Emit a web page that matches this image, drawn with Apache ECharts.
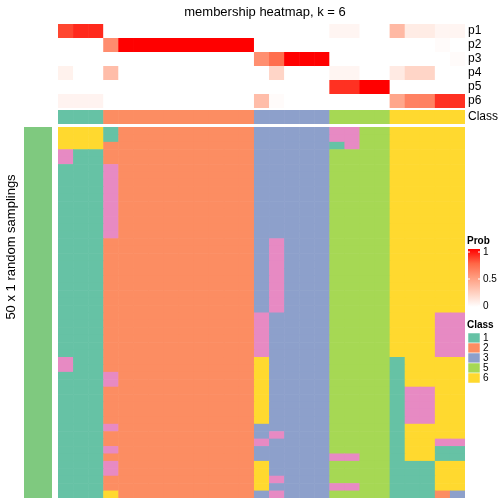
<!DOCTYPE html>
<html><head><meta charset="utf-8">
<script src="https://cdn.jsdelivr.net/npm/echarts@6/dist/echarts.min.js"></script>
<style>html,body{margin:0;padding:0;background:#fff}#c{width:504px;height:504px}</style>
</head><body><div id="c"></div>
<script>
// ---------- data ----------
const sampleCols = ['c1','c2','c3','c4','c5','c6','c7','c8','c9','c10','c11','c12','c13','c14','c15','c16','c17','c18','c19','c20','c21','c22','c23','c24','c25','c26','c27'];
const membershipNames = ['p1','p2','p3','p4','p5','p6'];
const p1 = [0.83,0.9,0.9, 0,0,0,0,0,0,0,0,0,0, 0,0,0,0,0, 0.05,0.05,0,0, 0.36,0.1,0.1,0.05,0.05];
const p2 = [0,0,0, 0.58,1,1,1,1,1,1,1,1,1, 0,0,0,0,0, 0,0,0,0, 0,0,0,0.02,0];
const p3 = [0,0,0, 0,0,0,0,0,0,0,0,0,0, 0.57,0.72,1,1,1, 0,0,0,0, 0,0,0,0,0.02];
const p4 = [0.07,0,0, 0.34,0,0,0,0,0,0,0,0,0, 0,0.22,0,0,0, 0.05,0.05,0,0, 0.11,0.22,0.22,0,0];
const p5 = [0,0,0, 0,0,0,0,0,0,0,0,0,0, 0,0,0,0,0, 0.88,0.88,1,1, 0,0,0,0,0];
const p6 = [0.06,0.06,0.06, 0,0,0,0,0,0,0,0,0,0, 0.34,0.02,0,0,0, 0,0,0,0, 0.46,0.63,0.63,0.88,0.88];
const consensusClass = [1,1,1, 2,2,2,2,2,2,2,2,2,2, 3,3,3,3,3, 5,5,5,5, 6,6,6,6,6];
// one string per random sampling (50), one digit (class) per sample column
const samplingRuns = [
 "666122222222233333445566666",
 "666122222222233333445566666",
 "666222222222233333145566666",
 "411222222222233333555566666",
 "411222222222233333555566666",
 "111422222222233333555566666",
 "111422222222233333555566666",
 "111422222222233333555566666",
 "111422222222233333555566666",
 "111422222222233333555566666",
 "111422222222233333555566666",
 "111422222222233333555566666",
 "111422222222233333555566666",
 "111422222222233333555566666",
 "111422222222233333555566666",
 "111222222222234333555566666",
 "111222222222234333555566666",
 "111222222222234333555566666",
 "111222222222234333555566666",
 "111222222222234333555566666",
 "111222222222234333555566666",
 "111222222222234333555566666",
 "111222222222234333555566666",
 "111222222222234333555566666",
 "111222222222234333555566666",
 "111222222222243333555566644",
 "111222222222243333555566644",
 "111222222222243333555566644",
 "111222222222243333555566644",
 "111222222222243333555566644",
 "111222222222243333555566644",
 "411222222222263333555516666",
 "411222222222263333555516666",
 "111422222222263333555516666",
 "111422222222263333555516666",
 "111222222222263333555514466",
 "111222222222263333555514466",
 "111222222222263333555514466",
 "111222222222263333555514466",
 "111222222222263333555514466",
 "111422222222233333555516666",
 "111222222222234333555516666",
 "111222222222243333555516644",
 "111422222222233333555516611",
 "111222222222233333445516611",
 "111422222222263333555511166",
 "111422222222263333555511166",
 "111222222222264333555511166",
 "111222222222263333445511166",
 "111622222222234333555511123"
];
const classKeys = [1,2,3,4,5,6];
const classColors = ['#66C2A5','#FC8D62','#8DA0CB','#E78AC3','#A6D854','#FFD92F'];
const legendClasses = [1,2,3,5,6];
const probTicks = [1, 0.5, 0];
const probColorStops = ['#FFFFFF','#FFCFBF','#FF9E81','#FF6746','#FF0000'];

// ---------- build ----------
const FONT = 'Liberation Sans, Arial, Helvetica, sans-serif';
const memb = [p1,p2,p3,p4,p5,p6];
const membData = [];
memb.forEach((arr, r) => arr.forEach((v, c) => membData.push([c, r, v])));
const classData = consensusClass.map((k, c) => [c, 0, k]);
const runNames = samplingRuns.map((s, i) => 'run' + (i + 1));
const runData = [];
samplingRuns.forEach((s, r) => { for (let c = 0; c < s.length; c++) runData.push([c, r, Number(s[c])]); });

const L = 58, W = 407;
function xCat(gi, data){ return {type:'category', gridIndex:gi, data:data, show:false}; }
const hidden = {axisLine:{show:false}, axisTick:{show:false}, splitLine:{show:false}};

// cell renderer: rect from the axis scales, widened by a hair so neighbours overlap (no seams)
function cell(params, api){
  const p = api.coord([api.value(0), api.value(1)]);
  const s = api.size([1, 1]);
  return {type:'rect', shape:{x:p[0]-s[0]/2, y:p[1]-s[1]/2, width:s[0]+0.6, height:s[1]+0.6},
    style:{fill:api.visual('color')}};
}
function heat(xi, yi, data, extra){
  return Object.assign({type:'custom', xAxisIndex:xi, yAxisIndex:yi, data:data, renderItem:cell,
    clip:true, silent:true, encode:{x:0, y:1}}, extra || {});
}

const chart = echarts.init(document.getElementById('c'), null, {renderer:'canvas'});
const legendX = 468, swW = 12;
const graphics = [
  {type:'text', x:265, y:12, style:{text:'membership heatmap, k = 6', font:'13px ' + FONT, fill:'#000', textAlign:'center', textVerticalAlign:'middle'}},
  {type:'text', x:11, y:247, rotation:Math.PI/2, style:{text:'50 x 1 random samplings', font:'13px ' + FONT, fill:'#000', textAlign:'center', textVerticalAlign:'middle'}},
  {type:'text', x:38, y:313, rotation:Math.PI/2, style:{text:'top 1000 rows', font:'10px ' + FONT, fill:'#000', textAlign:'center', textVerticalAlign:'middle'}},
  {type:'text', x:legendX-1, y:241, style:{text:'Prob', font:'bold 10px ' + FONT, fill:'#000', textAlign:'left', textVerticalAlign:'middle'}},
  {type:'rect', shape:{x:legendX, y:249, width:swW, height:58}, style:{fill:new echarts.graphic.LinearGradient(0,0,0,1, probColorStops.slice().reverse().map((c,i)=>({offset:i/(probColorStops.length-1), color:c})))}},
  {type:'text', x:legendX-1, y:325, style:{text:'Class', font:'bold 10px ' + FONT, fill:'#000', textAlign:'left', textVerticalAlign:'middle'}}
];
probTicks.forEach(t => {
  const y = 306 - t * 54;
  graphics.push({type:'line', shape:{x1:legendX, y1:y, x2:legendX+2, y2:y}, style:{stroke:'#fff', lineWidth:1}});
  graphics.push({type:'line', shape:{x1:legendX+swW-2, y1:y, x2:legendX+swW, y2:y}, style:{stroke:'#fff', lineWidth:1}});
  graphics.push({type:'text', x:legendX+swW+3, y:y, style:{text:String(t), font:'10px ' + FONT, fill:'#000', textAlign:'left', textVerticalAlign:'middle'}});
});
legendClasses.forEach((k, i) => {
  const y = 333 + i * 10;
  graphics.push({type:'rect', shape:{x:legendX, y:y, width:swW, height:10}, style:{fill:classColors[classKeys.indexOf(k)], stroke:'#fff', lineWidth:0.5}});
  graphics.push({type:'text', x:legendX+swW+3, y:y+5, style:{text:String(k), font:'10px ' + FONT, fill:'#000', textAlign:'left', textVerticalAlign:'middle'}});
});

chart.setOption({
  animation:false,
  backgroundColor:'#fff',
  grid:[
    {left:L, top:24, width:W, height:84},
    {left:L, top:110, width:W, height:14},
    {left:L, top:127, width:W, height:371},
    {left:24, top:127, width:28, height:371}
  ],
  xAxis:[xCat(0, sampleCols), xCat(1, sampleCols), xCat(2, sampleCols), xCat(3, ['anno'])],
  yAxis:[
    Object.assign({type:'category', gridIndex:0, data:membershipNames, inverse:true, position:'right',
      axisLabel:{color:'#000', fontSize:12, fontFamily:FONT, margin:3, interval:0}}, hidden),
    Object.assign({type:'category', gridIndex:1, data:['Class'], position:'right',
      axisLabel:{color:'#000', fontSize:12, fontFamily:FONT, margin:3, interval:0}}, hidden),
    {type:'category', gridIndex:2, data:runNames, inverse:true, show:false},
    {type:'category', gridIndex:3, data:['top 1000 rows'], show:false}
  ],
  visualMap:[
    {type:'continuous', seriesIndex:0, dimension:2, min:0, max:1, show:false, inRange:{color:probColorStops}},
    {type:'piecewise', seriesIndex:[1,2], dimension:2, show:false,
      pieces: classKeys.map((k,i)=>({value:k, color:classColors[i]}))}
  ],
  series:[
    heat(0, 0, membData),
    heat(1, 1, classData),
    heat(2, 2, runData),
    heat(3, 3, [[0,0,1]], {itemStyle:{color:'#7FC97F'}})
  ],
  graphic:graphics
});
</script></body></html>
